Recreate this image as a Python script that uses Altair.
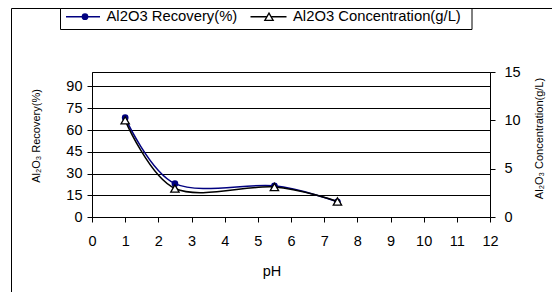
import altair as alt
import pandas as pd

# ---- data ----
ph = [1.0, 2.5, 5.5, 7.4]
recovery = [68.5, 23.0, 21.5, 10.5]          # Al2O3 Recovery (%), left axis
concentration = [10.0, 2.95, 3.1, 1.6]       # Al2O3 Concentration (g/L), right axis

x_ticks = list(range(0, 13))
left_ticks = [0, 15, 30, 45, 60, 75, 90]
right_ticks = [0, 5, 10, 15]

legend_labels = ["Al2O3 Recovery(%)", "Al2O3 Concentration(g/L)"]
left_title = ["Al\u2082O\u2083 Recovery(%)"]
right_title = ["Al\u2082O\u2083 Concentration(g/L)"]
x_title = ["pH"]

NAVY = "#000080"
FONT = "Liberation Sans"

df = pd.DataFrame({"ph": ph, "rec": recovery, "conc": concentration})
one = pd.DataFrame({"k": [0]})

x_enc = alt.X(
    "ph:Q",
    title=None,
    scale=alt.Scale(domain=[0, 12], nice=False, zero=False),
    axis=alt.Axis(values=x_ticks, grid=False, labelPadding=12, tickSize=5, format="d", labelFlush=False),
)

# left series
rec_y = alt.Y(
    "rec:Q",
    title=None,
    scale=alt.Scale(domain=[0, 100], nice=False),
    axis=alt.Axis(values=left_ticks, grid=True, orient="left", labelPadding=5, tickSize=5, labelFlush=False),
)
rec_line = alt.Chart(df).mark_line(interpolate="cardinal", color=NAVY, strokeWidth=1.5).encode(x=x_enc, y=rec_y)
rec_pts = alt.Chart(df).mark_point(shape="circle", filled=True, size=45, color=NAVY, opacity=1).encode(x=x_enc, y=rec_y)
left = alt.layer(rec_line, rec_pts)

# right series
conc_y = alt.Y(
    "conc:Q",
    title=None,
    scale=alt.Scale(domain=[0, 15], nice=False),
    axis=alt.Axis(values=right_ticks, grid=False, orient="right", labelPadding=9, tickSize=5, labelFlush=False),
)
conc_line = alt.Chart(df).mark_line(interpolate="cardinal", color="black", strokeWidth=1.5).encode(x=x_enc, y=conc_y)
conc_pts = alt.Chart(df).mark_point(
    shape="triangle-up", filled=True, fill="white", stroke="black", strokeWidth=1.3, size=70, opacity=1
).encode(x=x_enc, y=conc_y)
right = alt.layer(conc_line, conc_pts)

# outer chart-area border
outer = alt.Chart(one).mark_rect(fill="transparent", stroke="black", strokeWidth=1).encode(
    x=alt.value(-80.5), x2=alt.value(520), y=alt.value(-63.5), y2=alt.value(320)
)

# legend
LY = -55.3
leg_box = alt.Chart(one).mark_rect(fill="white", stroke="black", strokeWidth=1).encode(
    x=alt.value(-31.5), x2=alt.value(380), y=alt.value(-63.5), y2=alt.value(-42.5)
)
leg_l1 = alt.Chart(one).mark_rule(color=NAVY, strokeWidth=1.5).encode(
    x=alt.value(-26), x2=alt.value(8), y=alt.value(LY)
)
leg_p1 = alt.Chart(one).mark_point(shape="circle", filled=True, size=45, color=NAVY, opacity=1).encode(
    x=alt.value(-7), y=alt.value(LY)
)
leg_t1 = alt.Chart(pd.DataFrame({"t": [legend_labels[0]]})).mark_text(
    align="left", baseline="middle", font=FONT, fontSize=14.8, color="black"
).encode(text="t:N", x=alt.value(14.5), y=alt.value(LY))
leg_l2 = alt.Chart(one).mark_rule(color="black", strokeWidth=1.5).encode(
    x=alt.value(158.5), x2=alt.value(194.5), y=alt.value(LY)
)
leg_p2 = alt.Chart(one).mark_point(
    shape="triangle-up", filled=True, fill="white", stroke="black", strokeWidth=1.3, size=70, opacity=1
).encode(x=alt.value(177), y=alt.value(LY))
leg_t2 = alt.Chart(pd.DataFrame({"t": [legend_labels[1]]})).mark_text(
    align="left", baseline="middle", font=FONT, fontSize=14.8, color="black"
).encode(text="t:N", x=alt.value(201), y=alt.value(LY))

# axis titles
lt = alt.Chart(pd.DataFrame({"t": left_title})).mark_text(
    angle=270, align="center", baseline="middle", font=FONT, fontSize=11, color="black"
).encode(text="t:N", x=alt.value(-55), y=alt.value(64))
rt = alt.Chart(pd.DataFrame({"t": right_title})).mark_text(
    angle=270, align="center", baseline="middle", font=FONT, fontSize=11, color="black"
).encode(text="t:N", x=alt.value(447.5), y=alt.value(66.5))
xt = alt.Chart(pd.DataFrame({"t": x_title})).mark_text(
    align="center", baseline="middle", font=FONT, fontSize=14.5, color="black"
).encode(text="t:N", x=alt.value(180), y=alt.value(200))

chart = (
    alt.layer(outer, leg_box, leg_l1, leg_p1, leg_t1, leg_l2, leg_p2, leg_t2, lt, rt, xt, left, right)
    .resolve_scale(y="independent")
    .properties(
        width=398,
        height=145,
        padding={"left": 84, "top": 64, "right": 62, "bottom": 75},
        autosize=alt.AutoSizeParams(type="none"),
        background="white",
    )
    .configure_view(stroke="black", strokeWidth=1)
    .configure_axis(
        labelFont=FONT,
        labelFontSize=14.5,
        labelColor="black",
        labelFlush=False,
        domainColor="black",
        domainWidth=1,
        tickColor="black",
        tickWidth=1,
        gridColor="black",
        gridWidth=1,
        gridOpacity=1,
    )
)

chart.save("out.html", embed_options={"renderer": "svg", "actions": False})
